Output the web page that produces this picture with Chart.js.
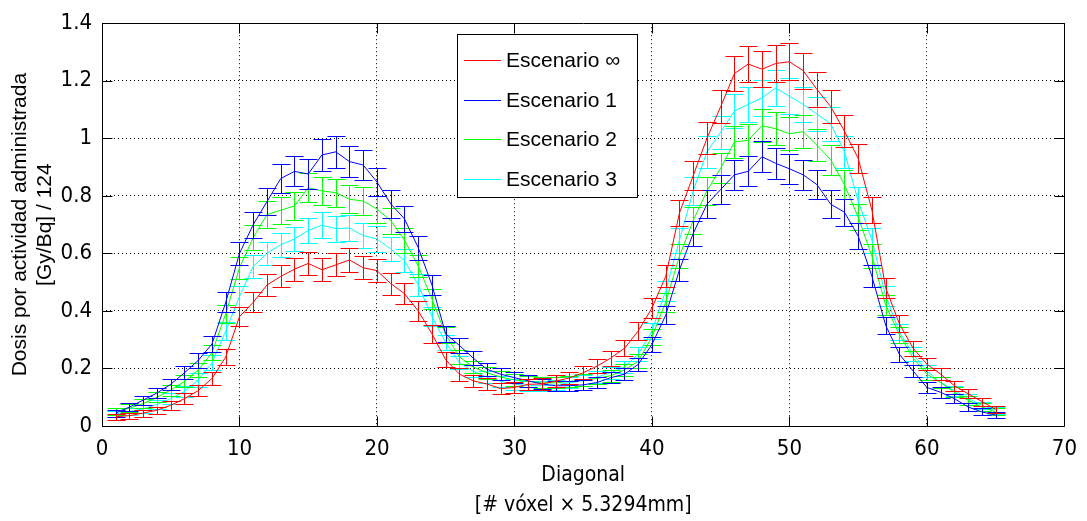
<!DOCTYPE html>
<html><head><meta charset="utf-8">
<script src="https://cdn.jsdelivr.net/npm/chart.js@4.4.1/dist/chart.umd.min.js"></script>
<style>html,body{margin:0;padding:0;background:#fff;overflow:hidden}canvas{display:block}</style>
</head><body>
<canvas id="c" width="1087" height="521"></canvas>
<script>
const voxels = [1,2,3,4,5,6,7,8,9,10,11,12,13,14,15,16,17,18,19,20,21,22,23,24,25,26,27,28,29,30,31,32,33,34,35,36,37,38,39,40,41,42,43,44,45,46,47,48,49,50,51,52,53,54,55,56,57,58,59,60,61,62,63,64,65];
const seriesLabels = ['Escenario \u221E','Escenario 1','Escenario 2','Escenario 3'];

const doseInf = [0.032,0.036,0.045,0.055,0.072,0.095,0.123,0.165,0.24,0.38,0.43,0.49,0.52,0.545,0.565,0.543,0.56,0.577,0.55,0.54,0.495,0.46,0.40,0.32,0.23,0.18,0.157,0.146,0.13,0.134,0.145,0.146,0.156,0.167,0.185,0.208,0.236,0.27,0.33,0.41,0.52,0.74,0.87,1.0,1.11,1.225,1.258,1.24,1.26,1.266,1.235,1.17,1.11,1.025,0.93,0.75,0.48,0.355,0.27,0.215,0.18,0.14,0.112,0.085,0.058];
const errInf = [0.01,0.01,0.012,0.012,0.015,0.018,0.02,0.022,0.028,0.032,0.035,0.037,0.038,0.04,0.04,0.04,0.04,0.042,0.04,0.04,0.038,0.036,0.034,0.03,0.026,0.022,0.02,0.02,0.018,0.018,0.02,0.02,0.02,0.02,0.022,0.024,0.026,0.028,0.03,0.034,0.038,0.045,0.05,0.055,0.058,0.062,0.064,0.063,0.064,0.065,0.063,0.06,0.058,0.055,0.05,0.045,0.036,0.03,0.026,0.022,0.02,0.018,0.016,0.014,0.012];

const dose1 = [0.045,0.066,0.09,0.115,0.145,0.185,0.228,0.285,0.43,0.60,0.70,0.78,0.86,0.885,0.876,0.942,0.953,0.919,0.907,0.848,0.772,0.72,0.62,0.49,0.32,0.28,0.236,0.197,0.18,0.168,0.157,0.146,0.14,0.14,0.143,0.151,0.168,0.18,0.214,0.283,0.385,0.543,0.669,0.771,0.822,0.873,0.885,0.936,0.913,0.894,0.873,0.839,0.771,0.743,0.66,0.52,0.35,0.249,0.191,0.134,0.117,0.095,0.066,0.049,0.038];
const err1 = [0.012,0.014,0.016,0.018,0.02,0.022,0.025,0.028,0.035,0.04,0.045,0.048,0.05,0.052,0.052,0.054,0.055,0.054,0.053,0.05,0.048,0.046,0.042,0.036,0.028,0.026,0.024,0.022,0.02,0.02,0.02,0.019,0.018,0.018,0.018,0.019,0.02,0.021,0.023,0.026,0.032,0.038,0.044,0.048,0.05,0.052,0.052,0.054,0.053,0.052,0.052,0.05,0.048,0.047,0.044,0.038,0.03,0.025,0.022,0.019,0.018,0.016,0.014,0.012,0.011];

const dose2 = [0.05,0.062,0.078,0.1,0.125,0.155,0.195,0.255,0.39,0.55,0.655,0.735,0.75,0.765,0.828,0.817,0.811,0.788,0.782,0.754,0.714,0.646,0.556,0.441,0.317,0.24,0.205,0.185,0.17,0.16,0.155,0.15,0.15,0.155,0.16,0.165,0.175,0.195,0.225,0.31,0.43,0.59,0.714,0.817,0.896,0.987,0.993,1.044,1.033,1.016,1.023,0.976,0.925,0.839,0.726,0.59,0.42,0.317,0.236,0.18,0.151,0.117,0.089,0.066,0.049];
const err2 = [0.012,0.013,0.015,0.017,0.019,0.021,0.024,0.027,0.032,0.038,0.043,0.046,0.047,0.048,0.05,0.05,0.049,0.048,0.048,0.047,0.045,0.043,0.039,0.034,0.028,0.024,0.022,0.021,0.02,0.02,0.019,0.019,0.019,0.019,0.02,0.02,0.021,0.022,0.024,0.028,0.034,0.041,0.046,0.05,0.053,0.056,0.056,0.058,0.058,0.057,0.057,0.055,0.053,0.05,0.046,0.041,0.034,0.028,0.024,0.021,0.019,0.017,0.015,0.013,0.012];

const dose3 = [0.042,0.05,0.06,0.075,0.095,0.12,0.16,0.22,0.33,0.45,0.555,0.6,0.63,0.65,0.68,0.698,0.686,0.688,0.662,0.65,0.615,0.575,0.49,0.38,0.29,0.22,0.19,0.17,0.155,0.145,0.14,0.14,0.143,0.15,0.158,0.17,0.185,0.205,0.25,0.33,0.47,0.646,0.817,0.953,1.021,1.095,1.118,1.14,1.175,1.146,1.118,1.084,1.05,0.953,0.782,0.646,0.453,0.327,0.249,0.191,0.151,0.123,0.095,0.072,0.055];
const err3 = [0.011,0.012,0.014,0.016,0.018,0.02,0.023,0.026,0.03,0.035,0.039,0.041,0.042,0.043,0.044,0.045,0.045,0.045,0.044,0.044,0.042,0.041,0.037,0.032,0.027,0.023,0.021,0.02,0.019,0.019,0.018,0.018,0.018,0.019,0.019,0.02,0.021,0.022,0.025,0.028,0.035,0.043,0.05,0.055,0.058,0.06,0.061,0.062,0.063,0.062,0.061,0.06,0.058,0.055,0.048,0.043,0.035,0.028,0.024,0.021,0.019,0.017,0.015,0.013,0.012];

const xTicks = [0,10,20,30,40,50,60,70];
const xTickLabels = ['0','10','20','30','40','50','60','70'];
const yTicks = [0,0.2,0.4,0.6,0.8,1.0,1.2,1.4];
const yTickLabels = ['0','0.2','0.4','0.6','0.8','1','1.2','1.4'];
const xTitle = ['Diagonal','[# v\u00F3xel \u00D7 5.3294mm]'];
const yTitle = ['Dosis por actividad administrada','[Gy/Bq] / 124'];

const colors = ['#ff0000','#0000ff','#00ff00','#00ffff'];
const allDose = [doseInf, dose1, dose2, dose3];
const allErr = [errInf, err1, err2, err3];

const NARROW = "'Liberation Sans Narrow','Arial Narrow','DejaVu Sans Condensed',sans-serif";
const SANS = "'Liberation Sans',Arial,Helvetica,sans-serif";

const datasets = allDose.map((d, i) => ({
  label: seriesLabels[i],
  data: voxels.map((x, j) => ({x: x, y: d[j]})),
  errors: allErr[i],
  borderColor: colors[i],
  backgroundColor: colors[i],
  borderWidth: 1,
  pointRadius: 0,
  tension: 0,
  fill: false
}));

const errorBarPlugin = {
  id: 'errorBars',
  afterDatasetDraw(chart, args) {
    const ds = chart.data.datasets[args.index];
    const xs = chart.scales.x, ys = chart.scales.y;
    const ctx = chart.ctx;
    const cap = 9;
    ctx.save();
    ctx.strokeStyle = colors[args.index];
    ctx.lineWidth = 1;
    ctx.setLineDash([]);
    ctx.beginPath();
    ds.data.forEach((p, j) => {
      const e = ds.errors[j];
      const px = Math.round(xs.getPixelForValue(p.x)) + 0.5;
      const y1 = Math.round(ys.getPixelForValue(p.y - e)) + 0.5;
      const y2 = Math.round(ys.getPixelForValue(p.y + e)) + 0.5;
      ctx.moveTo(px, y1); ctx.lineTo(px, y2);
      ctx.moveTo(px - cap, y1); ctx.lineTo(px + cap, y1);
      ctx.moveTo(px - cap, y2); ctx.lineTo(px + cap, y2);
    });
    ctx.stroke();
    ctx.restore();
  }
};

const boxLegendPlugin = {
  id: 'boxLegend',
  afterDraw(chart) {
    const ctx = chart.ctx;
    const a = chart.chartArea;
    const xs = chart.scales.x, ys = chart.scales.y;
    const L = Math.round(a.left) + 0.5, R = Math.round(a.right) + 0.5;
    const T = Math.round(a.top) + 0.5, B = Math.round(a.bottom) + 0.5;
    ctx.save();
    ctx.setLineDash([]);
    ctx.strokeStyle = '#000';
    ctx.lineWidth = 1;
    ctx.beginPath();
    ctx.rect(L, T, R - L, B - T);
    const tl = 10;
    xTicks.forEach(v => {
      const px = Math.round(xs.getPixelForValue(v)) + 0.5;
      ctx.moveTo(px, B); ctx.lineTo(px, B - tl);
      ctx.moveTo(px, T); ctx.lineTo(px, T + tl);
    });
    yTicks.forEach(v => {
      const py = Math.round(ys.getPixelForValue(v)) + 0.5;
      ctx.moveTo(L, py); ctx.lineTo(L + tl, py);
      ctx.moveTo(R, py); ctx.lineTo(R - tl, py);
    });
    ctx.stroke();

    // legend
    const lx = 457.5, ly = 34.5, lw = 180, lh = 163;
    ctx.fillStyle = '#fff';
    ctx.fillRect(lx, ly, lw, lh);
    ctx.strokeStyle = '#000';
    ctx.strokeRect(lx, ly, lw, lh);
    ctx.font = '21px ' + SANS;
    ctx.textBaseline = 'middle';
    ctx.textAlign = 'left';
    chart.data.datasets.forEach((ds, i) => {
      const cy = Math.round(60 + i * 39.7) + 0.5;
      ctx.strokeStyle = colors[i];
      ctx.beginPath();
      ctx.moveTo(464, cy); ctx.lineTo(501, cy);
      ctx.stroke();
      ctx.fillStyle = '#000000';
      ctx.fillText(ds.label, 506, cy + 1);
    });
    ctx.restore();
  }
};

new Chart(document.getElementById('c'), {
  type: 'line',
  data: { datasets: datasets },
  options: {
    responsive: false,
    animation: false,
    devicePixelRatio: 1,
    layout: { padding: { left: 0, right: 15, top: 16, bottom: 0 } },
    plugins: { legend: { display: false }, tooltip: { enabled: false } },
    scales: {
      x: {
        type: 'linear', min: 0, max: 70,
        afterBuildTicks: s => { s.ticks = xTicks.map(v => ({value: v})); },
        afterFit: s => { s.height = 95; },
        ticks: { callback: (v, i) => xTickLabels[i], color: '#000', padding: 10, maxRotation: 0, autoSkip: false,
                 font: { family: NARROW, size: 22 } },
        grid: { color: '#000', lineWidth: 1, drawTicks: false },
        border: { display: false, dash: [1, 3] },
        title: { display: true, text: xTitle, color: '#000', padding: { top: 0, bottom: 0 },
                 font: { family: NARROW, size: 21, lineHeight: 1.43 } }
      },
      y: {
        type: 'linear', min: 0, max: 1.4,
        afterBuildTicks: s => { s.ticks = yTicks.map(v => ({value: v})); },
        afterFit: s => { s.width = 102; },
        ticks: { callback: (v, i) => yTickLabels[i], color: '#000', padding: 10, autoSkip: false,
                 font: { family: NARROW, size: 22 } },
        grid: { color: '#000', lineWidth: 1, drawTicks: false },
        border: { display: false, dash: [1, 3] },
        title: { display: true, text: yTitle, color: '#000', padding: { top: 8, bottom: 0 },
                 font: { family: SANS, size: 21, lineHeight: 1.19 } }
      }
    }
  },
  plugins: [errorBarPlugin, boxLegendPlugin]
});
</script>
</body></html>
